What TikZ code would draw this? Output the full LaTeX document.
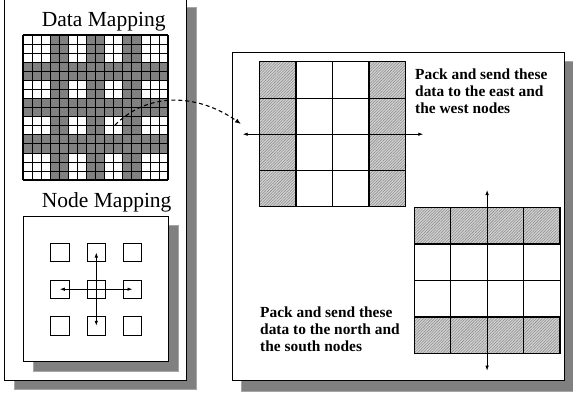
\documentclass[tikz,border=0pt]{standalone}
\usepackage{fontspec}
\setmainfont{Liberation Serif}
\usetikzlibrary{arrows.meta,patterns,patterns.meta}
\tikzset{
  shadowbox/.style={fill=black!50, draw=black!35, line width=0.6pt},
  panelbox/.style={fill=white, draw=black, line width=0.9pt},
  thinline/.style={line width=0.6pt},
  thickline/.style={line width=1.4pt},
  hatched/.style={preaction={fill=gray!35}, pattern={Lines[angle=45,distance=2pt,line width=0.55pt]}, pattern color=black!45},
  sq/.style={draw, line width=0.8pt, minimum size=18.5pt, inner sep=0pt, fill=white},
  arr/.style={line width=0.8pt, {Latex[length=5pt,width=3.5pt]}-{Latex[length=5pt,width=3.5pt]}},
  title/.style={font=\fontsize{21.5}{24}\selectfont, anchor=base west, inner sep=0pt},
  caption/.style={font=\bfseries\fontsize{15.4}{16.7}\selectfont, align=left, anchor=north west, inner sep=0pt},
}
\begin{document}
\begin{tikzpicture}[x=1pt,y=-1pt]
\useasboundingbox (0,0) rectangle (573,394);
\clip (0,0) rectangle (573,394);
\fill[white] (0,0) rectangle (573,394);

% ---------- left panel ----------
\fill[shadowbox] (14,7) rectangle (196,389);
\draw[panelbox] (4.5,-3) rectangle (186.7,380);
\node[title] (tdata) at (41.7,26) {Data Mapping};

% data grid
\def\cs{9.0625}
\fill[white] (23,35) rectangle (168,180);
\foreach \c in {3,4,7,8,11,12} {
  \fill[black!50] ({23+\c*\cs},35) rectangle ({23+(\c+1)*\cs},180);
  \fill[black!50] (23,{35+\c*\cs}) rectangle (168,{35+(\c+1)*\cs});
}
\foreach \i in {0,...,16} {
  \draw[thinline] ({23+\i*\cs},35) -- ({23+\i*\cs},180);
  \draw[thinline] (23,{35+\i*\cs}) -- (168,{35+\i*\cs});
}
\foreach \i in {0,4,8,12,16} {
  \draw[thickline] ({23+\i*\cs},35) -- ({23+\i*\cs},180);
  \draw[thickline] (23,{35+\i*\cs}) -- (168,{35+\i*\cs});
}

% node mapping
\node[title] (tnode) at (41.7,207.3) {Node Mapping};
\fill[shadowbox] (33,225.5) rectangle (178,371.7);
\draw[panelbox] (23.3,216) rectangle (168.3,361.7);
\foreach \r/\y in {0/252.5,1/289.2,2/325.8} {
  \foreach \c/\x in {0/59.8,1/96.3,2/132.5} {
    \node[sq] (m\r\c) at (\x,\y) {};
  }
}
\draw[arr] (m10.center) -- (m12.center);
\draw[arr] (m01.center) -- (m21.center);

% ---------- right panel ----------
\fill[shadowbox] (241.7,61.7) rectangle (575,391);
\draw[panelbox] (232.7,52.7) rectangle (564,380.7);

% grid A (east-west)
\def\ax{259.3}\def\ay{61.7}\def\aw{36.6}\def\ah{36.25}
\fill[hatched] (\ax,\ay) rectangle ({\ax+\aw},{\ay+4*\ah});
\fill[hatched] ({\ax+3*\aw},\ay) rectangle ({\ax+4*\aw},{\ay+4*\ah});
\foreach \i in {0,...,4} {
  \draw[thinline] ({\ax+\i*\aw},\ay) -- ({\ax+\i*\aw},{\ay+4*\ah});
  \draw[thinline] (\ax,{\ay+\i*\ah}) -- ({\ax+4*\aw},{\ay+\i*\ah});
}
\draw[thickline] (\ax,\ay) rectangle ({\ax+\aw},{\ay+4*\ah});
\draw[thickline] ({\ax+3*\aw},\ay) rectangle ({\ax+4*\aw},{\ay+4*\ah});
\coordinate (ewL) at (242.7,134.2);
\coordinate (ewR) at (423.3,134.2);
\draw[arr] (ewL) -- (ewR);

\node[caption] (capA) at (415,69) {Pack and send these\\data to the east and\\the west nodes};

% grid B (north-south)
\def\bx{414.3}\def\by{207.3}\def\bw{36.42}\def\bh{36.5}
\fill[hatched] (\bx,\by) rectangle ({\bx+4*\bw},{\by+\bh});
\fill[hatched] (\bx,{\by+3*\bh}) rectangle ({\bx+4*\bw},{\by+4*\bh});
\foreach \i in {0,...,4} {
  \draw[thinline] ({\bx+\i*\bw},\by) -- ({\bx+\i*\bw},{\by+4*\bh});
  \draw[thinline] (\bx,{\by+\i*\bh}) -- ({\bx+4*\bw},{\by+\i*\bh});
}
\draw[thickline] (\bx,\by) rectangle ({\bx+4*\bw},{\by+\bh});
\draw[thickline] (\bx,{\by+3*\bh}) rectangle ({\bx+4*\bw},{\by+4*\bh});
\coordinate (nsT) at (487.1,190);
\coordinate (nsB) at (487.1,370.7);
\draw[arr] (nsT) -- (nsB);

\node[caption] (capB) at (260,307) {Pack and send these\\data to the north and\\the south nodes};

% dashed link
\coordinate (ds) at (115,125);
\coordinate (de) at (241,124);
\draw[line width=1.1pt, dash pattern=on 4pt off 3pt, -{Latex[length=6pt,width=4.5pt]}]
  (ds) .. controls (150,90) and (200,95) .. (de);
\end{tikzpicture}
\end{document}
